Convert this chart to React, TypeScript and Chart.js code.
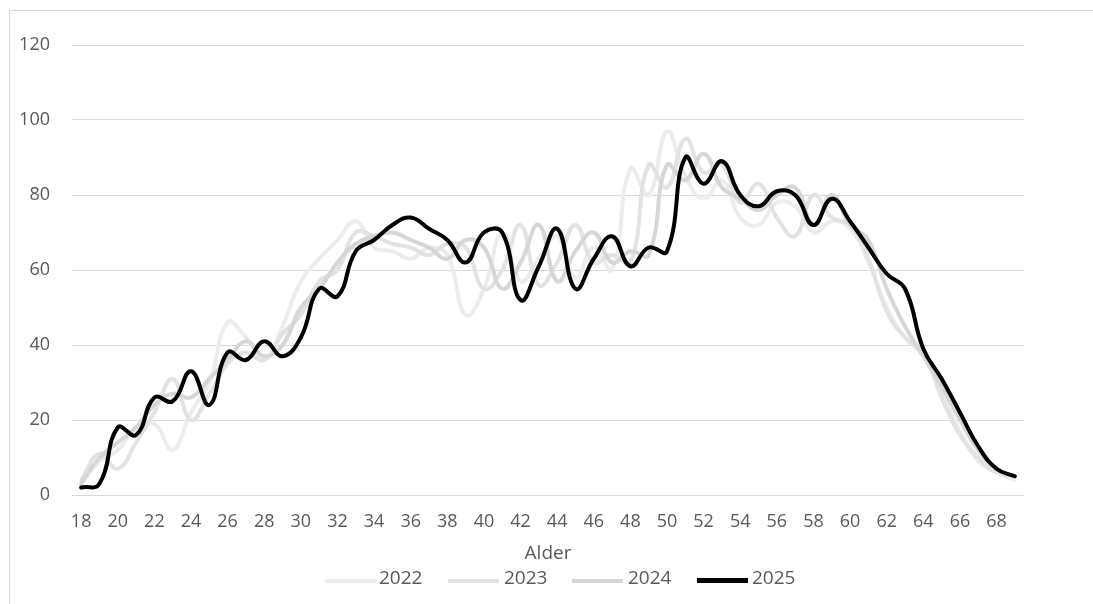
import { useEffect, useRef } from "react";
import { Chart, registerables } from "chart.js";

Chart.register(...registerables);

const AGES = [
  "18", "19", "20", "21", "22", "23", "24", "25", "26", "27", "28", "29",
  "30", "31", "32", "33", "34", "35", "36", "37", "38", "39",
  "40", "41", "42", "43", "44", "45", "46", "47", "48", "49",
  "50", "51", "52", "53", "54", "55", "56", "57", "58", "59",
  "60", "61", "62", "63", "64", "65", "66", "67", "68", "69",
];

const S2022 = [
  3, 9, 12, 18, 19, 12, 22, 30, 46, 42, 36, 45,
  57, 63, 68, 73, 66, 65, 63, 66, 64, 48,
  55, 70, 57, 63, 69, 58, 66, 60, 87, 80,
  97, 85, 79, 84, 74, 72, 78, 77, 70, 73,
  71, 62, 50, 42, 37, 27, 17, 9, 6, 4,
];
const S2023 = [
  4, 11, 7, 14, 22, 31, 20, 27, 35, 38, 36, 43,
  48, 57, 60, 70, 69, 67, 66, 64, 67, 66,
  55, 60, 72, 56, 62, 72, 62, 64, 62, 88,
  82, 95, 86, 88, 78, 83, 74, 69, 80, 74,
  72, 63, 49, 42, 38, 26, 16, 10, 6, 5,
];
const S2024 = [
  3, 10, 14, 18, 24, 27, 26, 31, 36, 41, 37, 40,
  50, 55, 62, 67, 69, 70, 68, 66, 63, 68,
  66, 55, 62, 72, 57, 65, 70, 62, 65, 64,
  88, 84, 91, 82, 79, 76, 80, 82, 72, 80,
  72, 68, 55, 45, 37, 29, 20, 12, 7, 5,
];
const S2025 = [
  2, 3, 18, 16, 26, 25, 33, 24, 38, 36, 41, 37,
  42, 55, 53, 65, 68, 72, 74, 71, 68, 62,
  70, 70, 52, 61, 71, 55, 63, 69, 61, 66,
  65, 90, 83, 89, 80, 77, 81, 80, 72, 79,
  73, 66, 59, 55, 39, 31, 22, 13, 7, 5,
];

const YEARS = ["2022", "2023", "2024", "2025"];
const SERIES = [S2022, S2023, S2024, S2025];
const COLORS = ["#ececec", "#e2e2e2", "#d6d6d6", "#000000"];
const WIDTHS = [4, 4, 4, 4];
const Y_MIN = 0;
const Y_MAX = 120;
const Y_STEP = 20;
const X_TITLE = "Alder";

const FONT = "'Open Sans', 'DejaVu Sans', sans-serif";
const TEXT = "#595959";

const LEGEND_POS = [
  { line: 325, text: 379 },
  { line: 448, text: 504 },
  { line: 572, text: 628 },
  { line: 697, text: 752 },
];

export default function App() {
  const ref = useRef<HTMLCanvasElement>(null);

  useEffect(() => {
    if (!ref.current) return;
    const chart = new Chart(ref.current, {
      type: "line",
      data: {
        labels: AGES,
        datasets: YEARS.map((y, i) => ({
          label: y,
          data: SERIES[i],
          borderColor: COLORS[i],
          backgroundColor: COLORS[i],
          borderWidth: WIDTHS[i],
          pointRadius: 0,
          fill: false,
          tension: 0.45,
          order: YEARS.length - 1 - i,
          borderCapStyle: "round" as const,
          borderJoinStyle: "round" as const,
        })),
      },
      options: {
        responsive: false,
        animation: false,
        layout: { padding: { top: 45, right: 69, bottom: 39, left: 0 } },
        plugins: {
          legend: { display: false },
          tooltip: { enabled: false },
        },
        scales: {
          x: {
            type: "category",
            offset: true,
            grid: { display: false },
            border: { display: false },
            ticks: {
              autoSkip: false,
              maxRotation: 0,
              padding: 8,
              color: TEXT,
              font: { family: FONT, size: 18 },
              callback: (_v: any, i: number) =>
                Number(AGES[i]) % 2 === 0 ? AGES[i] : "",
            },
            title: {
              display: true,
              text: X_TITLE,
              color: TEXT,
              font: { family: FONT, size: 19 },
              padding: 0,
            },
            afterFit: (s: any) => {
              s.height = 70;
            },
          },
          y: {
            min: Y_MIN,
            max: Y_MAX,
            ticks: {
              stepSize: Y_STEP,
              padding: 22,
              color: TEXT,
              font: { family: FONT, size: 18 },
            },
            grid: { color: "#d9d9d9", drawTicks: false, lineWidth: 1 },
            border: { display: false },
            afterFit: (s: any) => {
              s.width = 72;
            },
          },
        },
      },
    });
    return () => chart.destroy();
  }, []);

  return (
    <div
      style={{
        position: "fixed",
        left: 0,
        top: 0,
        width: 1093,
        height: 604,
        background: "#fff",
        overflow: "hidden",
        fontFamily: FONT,
      }}
    >
      <div
        style={{
          position: "absolute",
          left: 9,
          top: 10,
          width: 1200,
          height: 700,
          border: "1px solid #d9d9d9",
        }}
      />
      <canvas
        ref={ref}
        width={1093}
        height={604}
        style={{ position: "absolute", left: 0, top: 0, width: 1093, height: 604 }}
      />
      {YEARS.map((y, i) => (
        <div key={y}>
          <div
            style={{
              position: "absolute",
              left: LEGEND_POS[i].line,
              top: i === 3 ? 578 : 579,
              width: 51,
              height: i === 3 ? 5 : 4,
              background: COLORS[i],
            }}
          />
          <span
            style={{
              position: "absolute",
              left: LEGEND_POS[i].text,
              top: 566,
              lineHeight: "22px",
              fontSize: 19,
              color: TEXT,
              whiteSpace: "nowrap",
            }}
          >
            {y}
          </span>
        </div>
      ))}
    </div>
  );
}
